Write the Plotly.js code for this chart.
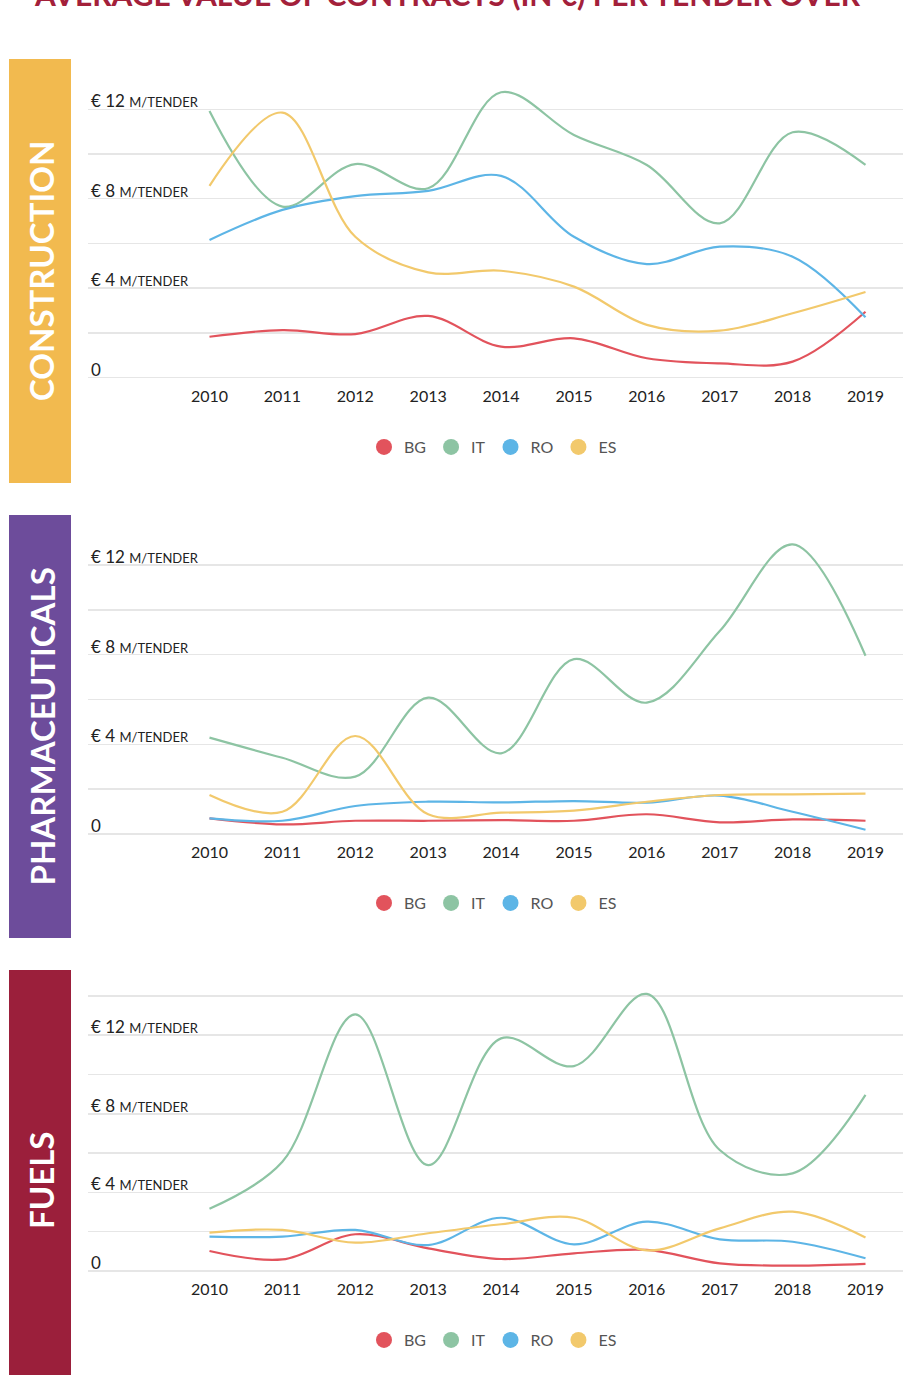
<!DOCTYPE html>
<html>
<head>
<meta charset="utf-8">
<script src="https://cdn.plot.ly/plotly-3.0.1.min.js"></script>
<style>html,body{margin:0;padding:0;background:#fff;}#chart{width:905px;height:1375px;}</style>
</head>
<body>
<div id="chart"></div>
<script>
const years = [2010, 2011, 2012, 2013, 2014, 2015, 2016, 2017, 2018, 2019];
const countries = ['BG', 'IT', 'RO', 'ES'];
const colors = ['#E2535C', '#8DC4A3', '#5DB5E6', '#F2C96C'];
const sectors = ['CONSTRUCTION', 'PHARMACEUTICALS', 'FUELS'];
const bandColors = ['#F2BA4F', '#6D4C9B', '#9B1F3B'];
const chartTitle = 'AVERAGE VALUE OF CONTRACTS (IN €) PER TENDER OVER';

// Values in € million per tender
const constructionBG = [1.83, 2.13, 1.95, 2.76, 1.39, 1.76, 0.87, 0.64, 0.72, 2.95];
const constructionIT = [11.92, 7.65, 9.55, 8.47, 12.76, 10.85, 9.51, 6.9, 10.97, 9.51];
const constructionRO = [6.16, 7.5, 8.12, 8.35, 9.02, 6.3, 5.08, 5.86, 5.41, 2.7];
const constructionES = [8.58, 11.85, 6.3, 4.71, 4.78, 4.07, 2.36, 2.1, 2.88, 3.83];

const pharmaBG = [0.7, 0.43, 0.59, 0.59, 0.62, 0.59, 0.88, 0.52, 0.65, 0.59];
const pharmaIT = [4.3, 3.4, 2.56, 6.08, 3.6, 7.8, 5.86, 9.05, 12.92, 7.95];
const pharmaRO = [0.7, 0.59, 1.25, 1.44, 1.41, 1.47, 1.4, 1.71, 0.99, 0.19];
const pharmaES = [1.74, 0.99, 4.37, 0.88, 0.95, 1.04, 1.44, 1.74, 1.77, 1.8];

const fuelsBG = [1.02, 0.59, 1.87, 1.15, 0.61, 0.9, 1.07, 0.39, 0.27, 0.36];
const fuelsIT = [3.17, 5.56, 13.06, 5.39, 11.84, 10.43, 14.1, 6.16, 4.97, 8.96];
const fuelsRO = [1.75, 1.75, 2.09, 1.32, 2.71, 1.36, 2.51, 1.61, 1.49, 0.65];
const fuelsES = [1.95, 2.09, 1.44, 1.92, 2.38, 2.71, 1.05, 2.17, 3.02, 1.7];

const panelData = [
  [constructionBG, constructionIT, constructionRO, constructionES],
  [pharmaBG, pharmaIT, pharmaRO, pharmaES],
  [fuelsBG, fuelsIT, fuelsRO, fuelsES]
];
const yTickVals = [
  [0, 2, 4, 6, 8, 10, 12],
  [0, 2, 4, 6, 8, 10, 12],
  [0, 2, 4, 6, 8, 10, 12, 14]
];
const labelledTicks = [0, 4, 8, 12];

const W = 905, H = 1375;
const px2y = p => 1 - p / H;

// panel geometry (pixels)
const panels = [
  {top: 80, bottom: 385, zero: 377.7, unit: 22.37, band: [59, 483], legendY: 447},
  {top: 536, bottom: 841, zero: 834.0, unit: 22.42, band: [515, 938], legendY: 903},
  {top: 985, bottom: 1278, zero: 1271.0, unit: 19.65, band: [970, 1392], legendY: 1340}
];

const font = 'Lato, "Open Sans", sans-serif';
const traces = [];
const layout = {
  width: W, height: H,
  margin: {l: 0, r: 0, t: 0, b: 0},
  paper_bgcolor: '#fff', plot_bgcolor: '#fff',
  font: {family: font, color: '#222'},
  showlegend: true,
  shapes: [], annotations: []
};

panels.forEach((p, i) => {
  const sfx = i === 0 ? '' : String(i + 1);
  const xa = 'x' + sfx, ya = 'y' + sfx, lg = 'legend' + sfx;
  panelData[i].forEach((vals, k) => {
    traces.push({
      x: years, y: vals, type: 'scatter', mode: 'lines',
      xaxis: xa, yaxis: ya, name: countries[k], showlegend: false,
      line: {color: colors[k], width: 2.2, shape: 'spline', smoothing: 1},
      hoverinfo: 'x+y+name'
    });
  });
  countries.forEach((c, k) => {
    traces.push({
      x: [null], y: [null], type: 'scatter', mode: 'markers',
      xaxis: xa, yaxis: ya, name: c, legend: lg, showlegend: true,
      marker: {color: colors[k], size: 16, symbol: 'circle'}
    });
  });
  const yr0 = (p.zero - p.bottom) / p.unit;
  const yr1 = (p.zero - p.top) / p.unit;
  layout['xaxis' + sfx] = {
    domain: [88 / W, 903 / W], anchor: ya,
    range: [2010 - 121.5 / 72.9, 2019 + 37.5 / 72.9],
    tickvals: years, ticktext: years.map(String),
    showgrid: false, zeroline: false, showline: false, ticks: '',
    tickfont: {family: font, size: 16, color: '#222'}, fixedrange: true
  };
  layout['yaxis' + sfx] = {
    domain: [px2y(p.bottom), px2y(p.top)], anchor: xa,
    range: [yr0, yr1],
    tickvals: yTickVals[i],
    ticktext: yTickVals[i].map(v => labelledTicks.includes(v)
      ? (v === 0 ? '0' : '€ ' + v + ' <span style="font-size:13px">M/TENDER</span>') : ''),
    ticklabelposition: 'inside top',
    ticklabelshift: 4,
    showgrid: true, gridcolor: '#e6e6e6', gridwidth: 1.5,
    zeroline: false, showline: false, ticks: '',
    tickfont: {family: font, size: 17, color: '#222'}, fixedrange: true
  };
  layout[lg] = {
    orientation: 'h', x: 493 / W, xanchor: 'center',
    y: px2y(p.legendY), yanchor: 'middle',
    font: {family: font, size: 16, color: '#555'},
    bgcolor: 'rgba(0,0,0,0)', itemclick: false, itemdoubleclick: false
  };
  layout.shapes.push({
    type: 'rect', xref: 'paper', yref: 'paper', layer: 'below',
    x0: 9 / W, x1: 71 / W, y0: px2y(p.band[1]), y1: px2y(p.band[0]),
    fillcolor: bandColors[i], line: {width: 0}
  });
  const bandCenter = i === 2 ? 1181 : (p.band[0] + p.band[1]) / 2;
  layout.annotations.push({
    xref: 'paper', yref: 'paper', x: 41 / W, y: px2y(bandCenter),
    xanchor: 'center', yanchor: 'middle', textangle: -90, showarrow: false,
    text: '<b>' + sectors[i] + '</b>',
    font: {family: font, size: 33, color: '#ffffff'}
  });
});

layout.annotations.push({
  xref: 'paper', yref: 'paper', x: 447 / W, y: px2y(-6), xanchor: 'center', yanchor: 'middle',
  showarrow: false, text: '<b>' + chartTitle + '</b>',
  font: {family: font, size: 30, color: '#A3203A'}
});

Plotly.newPlot('chart', traces, layout, {displayModeBar: false, staticPlot: true});
</script>
</body>
</html>
